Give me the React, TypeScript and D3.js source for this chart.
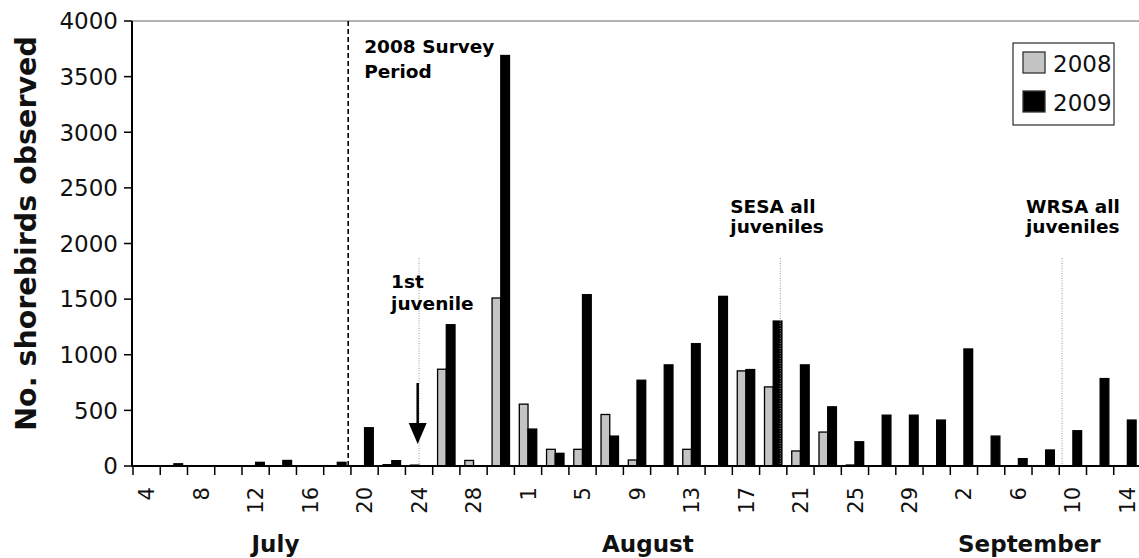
import * as d3 from 'd3';

// two-day bins, July 4 to September 14
const days = [
  4, 6, 8, 10, 12, 14, 16, 18, 20, 22, 24, 26, 28, 30,
  1, 3, 5, 7, 9, 11, 13, 15, 17, 19, 21, 23, 25, 27, 29, 31,
  2, 4, 6, 8, 10, 12, 14,
];
const months = [
  'Jul', 'Jul', 'Jul', 'Jul', 'Jul', 'Jul', 'Jul', 'Jul', 'Jul', 'Jul', 'Jul', 'Jul', 'Jul', 'Jul',
  'Aug', 'Aug', 'Aug', 'Aug', 'Aug', 'Aug', 'Aug', 'Aug', 'Aug', 'Aug', 'Aug', 'Aug', 'Aug', 'Aug', 'Aug', 'Aug',
  'Sep', 'Sep', 'Sep', 'Sep', 'Sep', 'Sep', 'Sep',
];
const categories = days.map((d, i) => `${months[i]} ${d}`);

const values2008 = [
  0, 0, 0, 0, 0, 0, 0, 0, 0, 12, 8, 870, 50, 1510,
  556, 150, 150, 463, 54, 0, 150, 0, 855, 711, 135, 305, 9, 0, 0, 0,
  0, 0, 0, 0, 0, 0, 0,
];
const values2009 = [
  0, 20, 0, 0, 33, 50, 0, 33, 344, 48, 0, 1270, 0, 3690,
  332, 114, 1540, 269, 771, 909, 1100, 1525, 867, 1303, 909, 532, 218, 457, 457, 413,
  1052, 269, 66, 144, 317, 786, 413,
];
const seriesNames = ['2008', '2009'];
const seriesColors = ['#c4c4c4', '#000000'];
const yTicks = [0, 500, 1000, 1500, 2000, 2500, 3000, 3500, 4000];

const monthLabels = [
  { label: 'July', at: 4.73 },
  { label: 'August', at: 18.4 },
  { label: 'September', at: 32.4 },
];

const W = 1139;
const H = 558;
const num = '"DejaVu Sans", Verdana, sans-serif';

export default function App() {
  const x0 = d3.scaleBand<string>().domain(categories).range([133, 1141]).paddingInner(0.36).paddingOuter(0.18);
  const x1 = d3.scaleBand<string>().domain(seriesNames).range([0, x0.bandwidth()]);
  const y = d3.scaleLinear().domain([0, 4000]).range([466, 21]);
  const step = x0.step();
  const bw = x0.bandwidth();
  // fractional category index -> x (for annotations)
  const at = d3.scaleLinear().domain([0, categories.length - 1]).range([
    x0(categories[0])! + bw / 2,
    x0(categories[categories.length - 1])! + bw / 2,
  ]);
  const boundaries = categories.map((c) => x0(c)! - (step - bw) / 2);
  boundaries.push(boundaries[boundaries.length - 1] + step);

  const series = [values2008, values2009];
  const base = y(0);

  return (
    <svg width={W} height={H} style={{ position: 'absolute', left: 0, top: 0, background: '#fff' }}>
      {/* top frame line */}
      <line x1={132} x2={W} y1={y(4000)} y2={y(4000)} stroke="#9a9a9a" strokeWidth={1.5} />

      {/* bars */}
      {series.map((vals, s) =>
        vals.map((v, i) =>
          v > 0 ? (
            <rect
              key={`${s}-${i}`}
              x={x0(categories[i])! + x1(seriesNames[s])!}
              y={y(v)}
              width={x1.bandwidth()}
              height={base - y(v)}
              fill={seriesColors[s]}
              stroke="#000"
              strokeWidth={1.3}
            />
          ) : null,
        ),
      )}

      {/* survey period dashed line */}
      <line x1={at(7.4)} x2={at(7.4)} y1={y(4000)} y2={base} stroke="#000" strokeWidth={1.6} strokeDasharray="5,3" />
      <text x={at(7.4) + 16} y={53} fontFamily={num} fontWeight="bold" fontSize={18.5}>2008 Survey</text>
      <text x={at(7.4) + 16} y={78} fontFamily={num} fontWeight="bold" fontSize={18.5}>Period</text>

      {/* juvenile markers */}
      {[10, 23.26, 33.6].map((p) => (
        <line key={p} x1={at(p)} x2={at(p)} y1={258} y2={base} stroke="#999" strokeWidth={1} strokeDasharray="1,1.5" />
      ))}
      <text x={at(10) - 28} y={288} fontFamily={num} fontWeight="bold" fontSize={18.5}>1st</text>
      <text x={at(10) - 28} y={310} fontFamily={num} fontWeight="bold" fontSize={18.5}>juvenile</text>
      <text x={at(23.26) - 50} y={213} fontFamily={num} fontWeight="bold" fontSize={18.5}>SESA all</text>
      <text x={at(23.26) - 50} y={233} fontFamily={num} fontWeight="bold" fontSize={18.5}>juveniles</text>
      <text x={at(33.6) - 36} y={213} fontFamily={num} fontWeight="bold" fontSize={18.5}>WRSA all</text>
      <text x={at(33.6) - 36} y={233} fontFamily={num} fontWeight="bold" fontSize={18.5}>juveniles</text>

      {/* arrow */}
      <line x1={at(9.95)} x2={at(9.95)} y1={383} y2={428} stroke="#000" strokeWidth={2.5} />
      <path
        d={`M${at(9.95) - 9},${423} L${at(9.95) + 9},${423} L${at(9.95)},${444} Z`}
        fill="#000"
      />

      {/* y axis */}
      <line x1={132} x2={132} y1={y(4000)} y2={base + 1} stroke="#000" strokeWidth={2} />
      {yTicks.map((t) => (
        <g key={t}>
          <line x1={124} x2={132} y1={y(t)} y2={y(t)} stroke="#000" strokeWidth={1.5} />
          <text x={118} y={y(t)} dy="0.36em" textAnchor="end" fontFamily={num} fontSize={23} fill="#111">
            {t}
          </text>
        </g>
      ))}
      <text
        transform={`translate(36, ${(y(0) + y(4000)) / 2 - 10}) rotate(-90)`}
        textAnchor="middle"
        fontFamily={num}
        fontWeight="bold"
        fontSize={28.5}
        fill="#111"
      >
        No. shorebirds observed
      </text>

      {/* x axis */}
      <line x1={131} x2={W} y1={base} y2={base} stroke="#000" strokeWidth={2} />
      {boundaries.map((b, i) => (
        <line key={i} x1={b} x2={b} y1={base} y2={base + 9} stroke="#000" strokeWidth={1.5} />
      ))}
      {categories.map((c, i) =>
        i % 2 === 0 ? (
          <text
            key={c}
            transform={`translate(${x0(c)! + bw / 2}, 487) rotate(-90)`}
            dy="0.36em"
            textAnchor="end"
            fontFamily={num}
            fontSize={21}
            fill="#111"
          >
            {days[i]}
          </text>
        ) : null,
      )}
      {monthLabels.map((m) => (
        <text key={m.label} x={at(m.at)} y={552} textAnchor="middle" fontFamily={num} fontWeight="bold" fontSize={23} fill="#111">
          {m.label}
        </text>
      ))}

      {/* legend */}
      <rect x={1013} y={43} width={101} height={82} fill="#fff" stroke="#000" strokeWidth={1} />
      {seriesNames.map((n, i) => (
        <g key={n}>
          <rect x={1023} y={52 + i * 39} width={22} height={21} fill={seriesColors[i]} stroke="#333" strokeWidth={1.3} />
          <text x={1053} y={72 + i * 39} fontFamily={num} fontSize={23} fill="#111">
            {n}
          </text>
        </g>
      ))}
    </svg>
  );
}
